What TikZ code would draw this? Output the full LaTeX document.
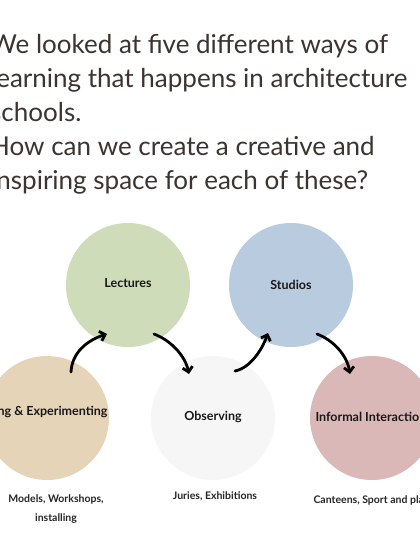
\documentclass[tikz,border=0pt]{standalone}
\usepackage{fontspec}
\setmainfont{Lato}
\usetikzlibrary{arrows.meta}
\definecolor{titlegray}{HTML}{3B3431}
\definecolor{lectgreen}{HTML}{CEDCB9}
\definecolor{studblue}{HTML}{B9CBDF}
\definecolor{prototan}{HTML}{E6D4B9}
\definecolor{obswhite}{HTML}{F6F6F6}
\definecolor{infpink}{HTML}{DBB8B8}

\begin{document}
\begin{tikzpicture}[x=1pt,y=-1pt,
  circ/.style={circle,minimum size=124pt,inner sep=0pt},
  lbl/.style={font=\fontsize{12.5}{14}\selectfont\bfseries,text=black!90},
  sub/.style={font=\fontsize{10.5}{19}\selectfont\bfseries,text=black!85,align=center},
  flow/.style={line width=2.8pt,line cap=round,-{Straight Barb[length=5pt,width=10pt,line width=2.8pt]}}]
  \useasboundingbox (0,0) rectangle (420,560);
  \clip (0,0) rectangle (420,560);
  \fill[white] (0,0) rectangle (420,560);
  % heading
  \node[anchor=north west,text=titlegray,align=left,font=\fontsize{26}{34}\selectfont,inner sep=0pt]
    (head) at (-10,34) {We looked at five different ways of\\learning that happens in architecture\\schools.\\How can we create a creative and\\inspiring space for each of these?};
  % circles
  \node[circ,fill=lectgreen] (lect) at (128,285) {};
  \node[circ,fill=studblue] (stud) at (291,285) {};
  \node[circ,fill=prototan] (proto) at (47,418) {};
  \node[circ,fill=obswhite] (obs) at (213,418) {};
  \node[circ,fill=infpink] (inf) at (372,418) {};
  \node[lbl] (lecttxt) at (128,283) {Lectures};
  \node[lbl] (studtxt) at (291,285) {Studios};
  \node[lbl,anchor=east] (prototxt) at (111,412) {Prototyping \& Experimenting};
  \node[lbl] (obstxt) at (213,417) {Observing};
  \node[lbl,anchor=west] (inftxt) at (312,417) {Informal Interactions};
  % notes under the circles
  \node[sub] (protosub) at (56,509) {Models, Workshops,\\installing};
  \node[sub] (obssub) at (215,496) {Juries, Exhibitions};
  \node[sub,anchor=west] (infsub) at (310,500) {Canteens, Sport and play};
  % arrows
  \coordinate (a1) at (71,372);  \coordinate (b1) at (107,334);
  \coordinate (a2) at (154,334); \coordinate (b2) at (189,374);
  \coordinate (a3) at (235,371); \coordinate (b3) at (268,333);
  \coordinate (a4) at (317,334); \coordinate (b4) at (350,374);
  \draw[flow] (a1) .. controls (72,352) and (88,340) .. (b1);
  \draw[flow] (a2) .. controls (170,340) and (185,355) .. (b2);
  \draw[flow] (a3) .. controls (250,368) and (262,350) .. (b3);
  \draw[flow] (a4) .. controls (333,340) and (347,355) .. (b4);
\end{tikzpicture}
\end{document}
